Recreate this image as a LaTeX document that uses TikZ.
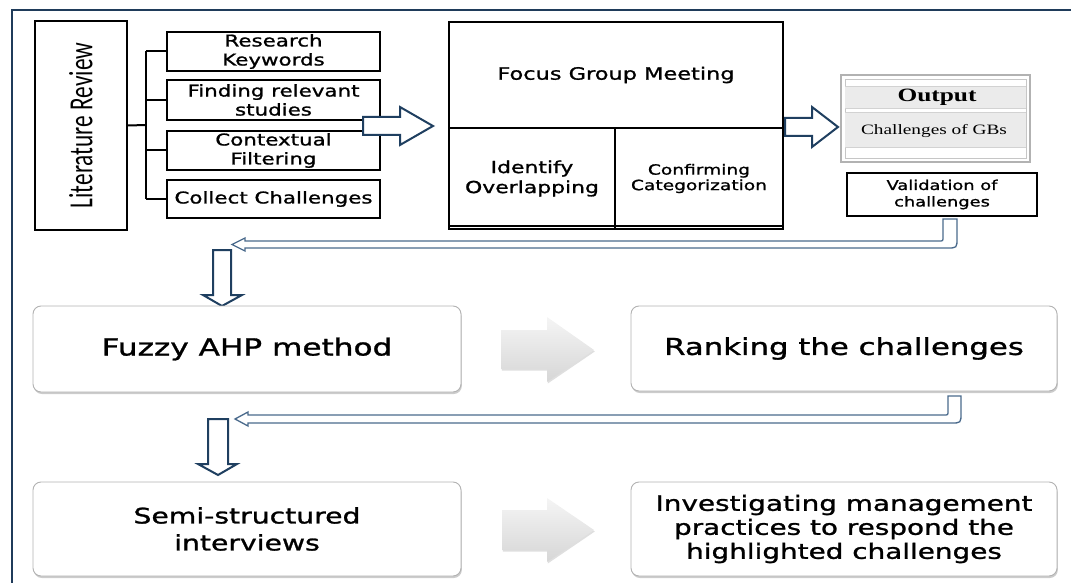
\documentclass[tikz,border=0pt]{standalone}
\usepackage{fontspec}
\usepackage{graphicx}
\usetikzlibrary{shadows,calc}
\newfontfamily\vf[FakeStretch=1.32,FakeBold=1.2]{DejaVu Sans}
\newfontfamily\tf[FakeStretch=1.35]{Liberation Serif}
\newfontfamily\cf{Carlito}
\definecolor{framec}{HTML}{1F3B5A}
\definecolor{navyc}{HTML}{1F3F60}
\definecolor{steelc}{HTML}{4A6A8C}
\tikzset{
  box/.style={draw=black, line width=2pt, fill=white, inner sep=0pt, align=center},
  rbox/.style={draw=gray!60, line width=0.9pt, rounded corners=8pt, fill=white, inner sep=0pt, align=center,
    drop shadow={shadow xshift=0.8pt, shadow yshift=-2pt, fill=black!40, opacity=0.5}},
  blkarrow/.style={draw=navyc, line width=2pt, fill=white, line join=miter},
  retarrow/.style={draw=steelc, line width=1.3pt, fill=white, line join=miter},
  grayarrow/.style={top color=gray!8, bottom color=gray!32, draw=none,
    drop shadow={shadow xshift=0.8pt, shadow yshift=-1.5pt, fill=black!25, opacity=0.5}},
  conn/.style={draw=black, line width=2pt},
}
\begin{document}
\begin{tikzpicture}[x=1pt,y=-1pt]
\useasboundingbox (0,0) rectangle (1071,583);
% outer frame
\draw[framec, line width=2.5pt] (12,600) -- (12,10) -- (1080,10);

% literature review
\node[box, minimum width=92pt, minimum height=209pt] (lr) at (81,125.5)
  {\rotatebox{90}{\scalebox{1}[1.45]{\fontsize{23.3}{25}\cf Literature Review}}};
\node[box, minimum width=213pt, minimum height=39pt, font={\fontsize{16.2}{19}\vf}] (rk) at (273.5,51.5)
  {Research\\Keywords};
\node[box, minimum width=213pt, minimum height=40pt, font={\fontsize{16.2}{19}\vf}] (fr) at (273.5,100)
  {Finding relevant\\studies};
\node[box, minimum width=213pt, minimum height=39pt, font={\fontsize{16.2}{19}\vf}] (cfil) at (273.5,150.5)
  {Contextual\\Filtering};
\node[box, minimum width=213pt, minimum height=38pt, font={\fontsize{16.2}{19}\vf}] (cc) at (273.5,199)
  {Collect Challenges};
\coordinate (br) at (146,125);
\draw[conn] (lr.east) -- (br);
\draw[conn] (rk.west -| br) -- (cc.west -| br);
\draw[conn] (rk.west -| br) -- (rk.west);
\draw[conn] (fr.west -| br) -- (fr.west);
\draw[conn] (cfil.west -| br) -- (cfil.west);
\draw[conn] (cc.west -| br) -- (cc.west);

% hollow arrow to focus group
\draw[blkarrow] (363,117) -- (400,117) -- (400,107) -- (433,126) -- (400,145) -- (400,135) -- (363,135) -- cycle;

% focus group
\node[box, minimum width=334pt, minimum height=106pt, font={\fontsize{17}{20}\vf}] (fgm) at (616,75)
  {Focus Group Meeting};
\node[box, minimum width=166pt, minimum height=101pt, font={\fontsize{16.6}{20}\vf}] (ident) at (532,178.5)
  {Identify\\Overlapping};
\node[box, minimum width=168pt, minimum height=101pt, font={\fontsize{14.1}{15.5}\vf}] (confirm) at (699,178.5)
  {Confirming\\Categorization};
\draw[line width=1.2pt] ($(ident.south west)+(0,-4)$) -- ($(confirm.south east)+(0,-4)$);

% arrow to output
\draw[blkarrow] (785,118) -- (812,118) -- (812,107) -- (838,127) -- (812,147) -- (812,136) -- (785,136) -- cycle;

% output box
\node[draw=gray!60, line width=2.8pt, fill=white, minimum width=189pt, minimum height=87pt, inner sep=0pt] (outbox) at (935.5,118.5) {};
\draw[gray!45, line width=0.8pt] (845,79) rectangle (1026,158);
\fill[gray!16] (845,86) rectangle (1026,108);
\fill[gray!16] (845,112) rectangle (1026,147);
\draw[gray!35, line width=0.6pt] (845,86) -- (1026,86) (845,108) -- (1026,108) (845,112) -- (1026,112) (845,147) -- (1026,147);
\node[font={\fontsize{18.8}{20}\tf\bfseries}] (outtitle) at (937,97) {Output};
\node[font={\fontsize{14.3}{16}\tf}] (outtext) at (934,131) {Challenges of GBs};

% validation
\node[box, minimum width=190pt, minimum height=43pt, font={\fontsize{13.5}{16.5}\vf}] (valid) at (942,194.5)
  {Validation of\\challenges};

% return arrow 1
\draw[retarrow] (943,219) -- (943,237) .. controls (943,241) .. (939,241) -- (245,241) -- (245,238) -- (232,244.5) -- (245,251) -- (245,248) -- (947,248) .. controls (957,248) .. (957,238) -- (957,219) -- cycle;

% down arrow A
\draw[blkarrow] (213,250) -- (231,250) -- (231,295) -- (242,295) -- (222,306) -- (203,295) -- (213,295) -- cycle;

% second row
\node[rbox, minimum width=428pt, minimum height=86pt, font={\fontsize{23.6}{28}\vf}] (fuzzy) at (247,349)
  {Fuzzy AHP method};
\node[rbox, minimum width=426pt, minimum height=85pt, font={\fontsize{23.3}{28}\vf}] (rank) at (844,348.5)
  {Ranking the challenges};
\path[grayarrow] (501,330) -- (547,330) -- (547,317) -- (594,350) -- (547,382) -- (547,369) -- (501,369) -- cycle;

% return arrow 2
\draw[retarrow] (948,396) -- (948,411) .. controls (948,415) .. (944,415) -- (248,415) -- (248,412) -- (235,419) -- (248,426) -- (248,423) -- (951,423) .. controls (961,423) .. (961,413) -- (961,396) -- cycle;

% down arrow B
\draw[blkarrow] (208,419) -- (228,419) -- (228,464) -- (237,464) -- (218,475) -- (198,464) -- (208,464) -- cycle;

% third row
\node[rbox, minimum width=428pt, minimum height=94pt, font={\fontsize{21.4}{27}\vf}] (semi) at (247,529)
  {Semi-structured\\interviews};
\node[rbox, minimum width=426pt, minimum height=94pt, font={\fontsize{21.1}{24}\vf}] (invest) at (844,529)
  {Investigating management\\practices to respond the\\highlighted challenges};
\path[grayarrow] (502,510) -- (547,510) -- (547,498) -- (594,530) -- (547,562) -- (547,550) -- (502,550) -- cycle;
\end{tikzpicture}
\end{document}
